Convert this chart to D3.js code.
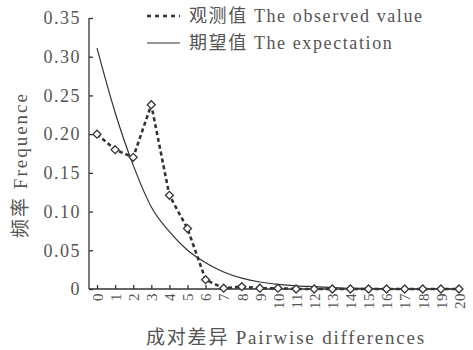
<!DOCTYPE html>
<html>
<head>
<meta charset="utf-8">
<script src="https://cdn.jsdelivr.net/npm/d3@7"></script>
<style>
  body { margin: 0; background: #fff; }
  text { font-family: "Liberation Serif", "Noto Sans CJK SC", serif; fill: #555; }
</style>
</head>
<body>
<div id="chart"></div>
<script>
// pairwise differences 0..20
var differences = d3.range(0, 21);
var observed = [0.200, 0.180, 0.170, 0.238, 0.121, 0.078, 0.012, 0.001, 0.003, 0.001,
                0.001, 0.000, 0.000, 0.000, 0.000, 0.000, 0.000, 0.000, 0.000, 0.000, 0.000];
var expected = [0.311, 0.228, 0.160, 0.106, 0.074, 0.050, 0.034, 0.022, 0.014, 0.009,
                0.006, 0.004, 0.003, 0.002, 0.001, 0.001, 0.000, 0.000, 0.000, 0.000, 0.000];
var yTicks = [0, 0.05, 0.10, 0.15, 0.20, 0.25, 0.30, 0.35];
var yTickLabels = ["0", "0.05", "0.10", "0.15", "0.20", "0.25", "0.30", "0.35"];

var width = 473, height = 350;
var margin = {top: 18, right: 11, bottom: 61, left: 89};
var ink = "#333";
var serif = "'Liberation Serif', 'Noto Sans CJK SC', serif";

var svg = d3.select("#chart").append("svg")
    .attr("width", width)
    .attr("height", height);

var x = d3.scaleLinear()
    .domain([0, 20])
    .range([97, 459]);

var y = d3.scaleLinear()
    .domain([0, 0.35])
    .range([height - margin.bottom, margin.top]);

// y axis
var yAxis = svg.append("g")
    .attr("transform", "translate(" + margin.left + ",0)")
    .call(d3.axisLeft(y).tickValues(yTicks).tickSize(-4).tickPadding(8)
      .tickFormat(function(d, i) { return yTickLabels[i]; }))
    .attr("font-family", serif);
yAxis.select(".domain").attr("stroke", ink).attr("stroke-width", 1.3).attr("d", "M0," + y(0) + "V" + y(0.35));
yAxis.selectAll(".tick line").attr("stroke", ink).attr("stroke-width", 1.3);
yAxis.selectAll(".tick text")
    .style("font-family", serif)
    .style("font-size", "18px")
    .style("letter-spacing", "1.5px")
    .attr("fill", "#555");

// x axis
var xAxis = svg.append("g")
    .attr("transform", "translate(0," + y(0) + ")")
    .call(d3.axisBottom(x).tickValues(differences).tickSize(-4).tickPadding(4))
    .attr("font-family", serif);
xAxis.select(".domain").attr("stroke", ink).attr("stroke-width", 1.3).attr("d", "M" + margin.left + ",0H462");
xAxis.selectAll(".tick line").attr("stroke", ink).attr("stroke-width", 1.3);
xAxis.selectAll(".tick text")
    .style("font-family", serif)
    .style("font-size", "15px")
    .style("letter-spacing", "0.5px")
    .attr("fill", "#555")
    .attr("text-anchor", "end")
    .attr("dy", "0.35em")
    .attr("transform", "translate(0,4) rotate(-90)")
    .attr("x", 0)
    .attr("y", 0);

// expected line
var line = d3.line()
    .x(function(d, i) { return x(differences[i]); })
    .y(function(d) { return y(d); });

svg.append("path")
    .datum(expected)
    .attr("fill", "none")
    .attr("stroke", ink)
    .attr("stroke-width", 1.2)
    .attr("d", line.curve(d3.curveMonotoneX));

// observed line
svg.append("path")
    .datum(observed)
    .attr("fill", "none")
    .attr("stroke", ink)
    .attr("stroke-width", 2.6)
    .attr("stroke-dasharray", "4,3")
    .attr("d", line.curve(d3.curveLinear));

svg.selectAll(".pt")
    .data(observed)
  .enter().append("path")
    .attr("class", "pt")
    .attr("transform", function(d, i) { return "translate(" + x(differences[i]) + "," + y(d) + ")"; })
    .attr("d", d3.symbol().type(d3.symbolDiamond2).size(40))
    .attr("fill", "#fff")
    .attr("stroke", ink)
    .attr("stroke-width", 1.3);

// legend
var legend = svg.append("g");
legend.append("line")
    .attr("x1", 147).attr("x2", 180).attr("y1", 16).attr("y2", 16)
    .attr("stroke", ink).attr("stroke-width", 2.4).attr("stroke-dasharray", "4,4");
legend.append("text")
    .attr("x", 189).attr("y", 22)
    .style("font-size", "18px")
    .style("letter-spacing", "1.6px")
    .text("观测值 The observed value");
legend.append("line")
    .attr("x1", 147).attr("x2", 180).attr("y1", 43).attr("y2", 43)
    .attr("stroke", ink).attr("stroke-width", 1.2);
legend.append("text")
    .attr("x", 189).attr("y", 49)
    .style("font-size", "18px")
    .style("letter-spacing", "1.6px")
    .text("期望值 The expectation");

// axis titles
svg.append("text")
    .attr("transform", "translate(27,165) rotate(-90)")
    .attr("text-anchor", "middle")
    .style("font-size", "19px")
    .style("letter-spacing", "2px")
    .text("频率 Frequence");

svg.append("text")
    .attr("x", 286).attr("y", 344)
    .attr("text-anchor", "middle")
    .style("font-size", "19px")
    .style("letter-spacing", "1.8px")
    .text("成对差异 Pairwise differences");
</script>
</body>
</html>
